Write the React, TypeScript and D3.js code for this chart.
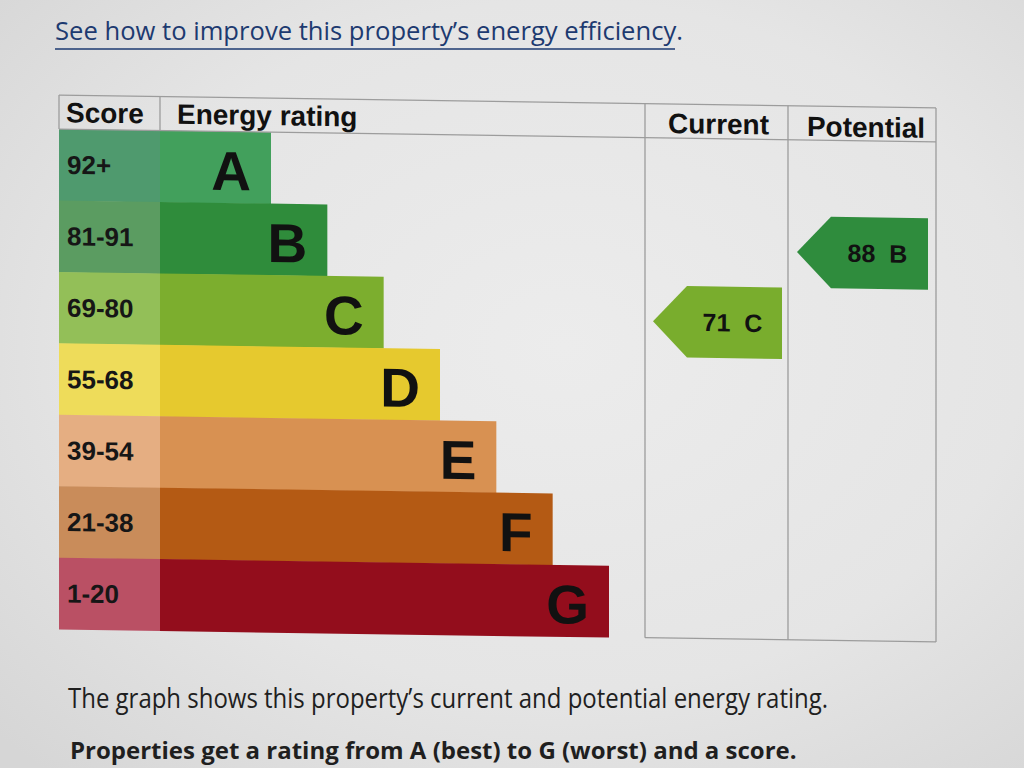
import React from "react";
import * as d3 from "d3";

const letters = ["A", "B", "C", "D", "E", "F", "G"];
const scoreRanges = ["92+", "81-91", "69-80", "55-68", "39-54", "21-38", "1-20"];
const barColors = ["#42a05c", "#2f8c3b", "#7cae2e", "#e6c92e", "#d89152", "#b45a14", "#930d1c"];
const scoreColors = ["#4f9a6e", "#5b9c61", "#93bf58", "#eedc5a", "#e5ae82", "#c98c5a", "#ba5064"];
const headers = ["Score", "Energy rating", "Current", "Potential"];
const currentRating = { score: 71, letter: "C", color: "#79ad2d" };
const potentialRating = { score: 88, letter: "B", color: "#2f8c3d" };

const FONT = "'Liberation Sans', Arial, sans-serif";
const BODY_FONT = "'Open Sans', 'Noto Sans', sans-serif";

export default function App() {
  const W = 1024;
  const H = 768;
  // column edges
  const xLeft = 59, xScore = 160, xCur = 645, xPot = 788, xRight = 936;
  const yTop = 95, yHead = 129, yBottom = 629;

  const y = d3.scaleBand<string>().domain(letters).range([yHead, yBottom]).paddingInner(0);
  const barEnd = d3.scaleLinear().domain([0, letters.length - 1]).range([271, 609]);

  const arrowPath = (x0: number, x1: number, top: number, h: number) => {
    const p = d3.path();
    p.moveTo(x0, top + h / 2);
    p.lineTo(x0 + 34, top);
    p.lineTo(x1, top);
    p.lineTo(x1, top + h);
    p.lineTo(x0 + 34, top + h);
    p.closePath();
    return p.toString();
  };

  const arrows = [
    { r: currentRating, x0: xCur + 8, x1: xPot - 6 },
    { r: potentialRating, x0: xPot + 9, x1: xRight - 8 },
  ];

  const lineColor = "#9c9c9c";

  return (
    <svg width={W} height={H} style={{ position: "absolute", left: 0, top: 0, display: "block" }}>
      <defs>
        <radialGradient id="bg" cx="0.55" cy="0.45" r="0.75">
          <stop offset="0" stopColor="#ececec" />
          <stop offset="0.6" stopColor="#e5e5e5" />
          <stop offset="1" stopColor="#d6d6d6" />
        </radialGradient>
      </defs>
      <rect x={0} y={0} width={W} height={H} fill="url(#bg)" />

      {/* link text */}
      <text x={55} y={40} fontFamily={BODY_FONT} fontSize={26} fill="#1d3a70" textLength={628} lengthAdjust="spacingAndGlyphs">
        See how to improve this property’s energy efficiency.
      </text>
      <line x1={55} x2={675} y1={49} y2={49} stroke="#1d3a70" strokeWidth={1.6} />

      <g transform="translate(55,0) skewY(0.84) translate(-55,0)">
        {/* score cells and bars */}
        {letters.map((l, i) => (
          <g key={l}>
            <rect x={xLeft} y={y(l)} width={xScore - xLeft} height={y.bandwidth() + 0.5} fill={scoreColors[i]} />
            <rect x={xScore} y={y(l)} width={barEnd(i) - xScore} height={y.bandwidth() + 0.5} fill={barColors[i]} />
            <text x={xLeft + 8} y={y(l)! + y.bandwidth() / 2 + 9} fontFamily={FONT} fontWeight={700} fontSize={26} fill="#161616">
              {scoreRanges[i]}
            </text>
            <text x={barEnd(i) - 20} y={y(l)! + y.bandwidth() - 13} textAnchor="end" fontFamily={FONT} fontWeight={700} fontSize={55} fill="#111">
              {l}
            </text>
          </g>
        ))}

        {/* grid lines */}
        <g stroke={lineColor} strokeWidth={1.3} fill="none">
          <line x1={xLeft} x2={xRight} y1={yTop} y2={yTop} />
          <line x1={xLeft} x2={xRight} y1={yHead} y2={yHead} />
          <line x1={xLeft} x2={xLeft} y1={yTop} y2={yHead} />
          <line x1={xScore} x2={xScore} y1={yTop} y2={yHead} />
          <line x1={xCur} x2={xCur} y1={yTop} y2={yBottom} />
          <line x1={xPot} x2={xPot} y1={yTop} y2={yBottom} />
          <line x1={xRight} x2={xRight} y1={yTop} y2={yBottom} />
          <line x1={xCur} x2={xRight} y1={yBottom} y2={yBottom} />
        </g>

        {/* headers */}
        <text x={xLeft + 7} y={122} fontFamily={FONT} fontWeight={700} fontSize={28} fill="#111">{headers[0]}</text>
        <text x={xScore + 17} y={122} fontFamily={FONT} fontWeight={700} fontSize={28} fill="#111">{headers[1]}</text>
        <text x={(xCur + xPot) / 2 + 2} y={124} textAnchor="middle" fontFamily={FONT} fontWeight={700} fontSize={28} fill="#111">{headers[2]}</text>
        <text x={(xPot + xRight) / 2 + 4} y={125} textAnchor="middle" fontFamily={FONT} fontWeight={700} fontSize={28} fill="#111">{headers[3]}</text>

        {/* arrows */}
        {arrows.map(({ r, x0, x1 }) => {
          const top = y(r.letter)! + 5;
          const h = y.bandwidth();
          return (
            <g key={r.letter}>
              <path d={arrowPath(x0, x1, top, h)} fill={r.color} />
              <text
                x={(x0 + 34 + x1) / 2 - 2}
                y={top + h / 2 + 9}
                textAnchor="middle"
                fontFamily={FONT}
                fontWeight={700}
                fontSize={25}
                fill="#111"
                style={{ whiteSpace: "pre" }}
              >
                {`${r.score}  ${r.letter}`}
              </text>
            </g>
          );
        })}
      </g>

      {/* footer text */}
      <text x={68} y={708} fontFamily={BODY_FONT} fontSize={27} fill="#1f1f1f" textLength={760} lengthAdjust="spacingAndGlyphs">
        The graph shows this property’s current and potential energy rating.
      </text>
      <text x={70} y={759} fontFamily={BODY_FONT} fontWeight={700} fontSize={24} fill="#1f1f1f">
        Properties get a rating from A (best) to G (worst) and a score.
      </text>
    </svg>
  );
}
